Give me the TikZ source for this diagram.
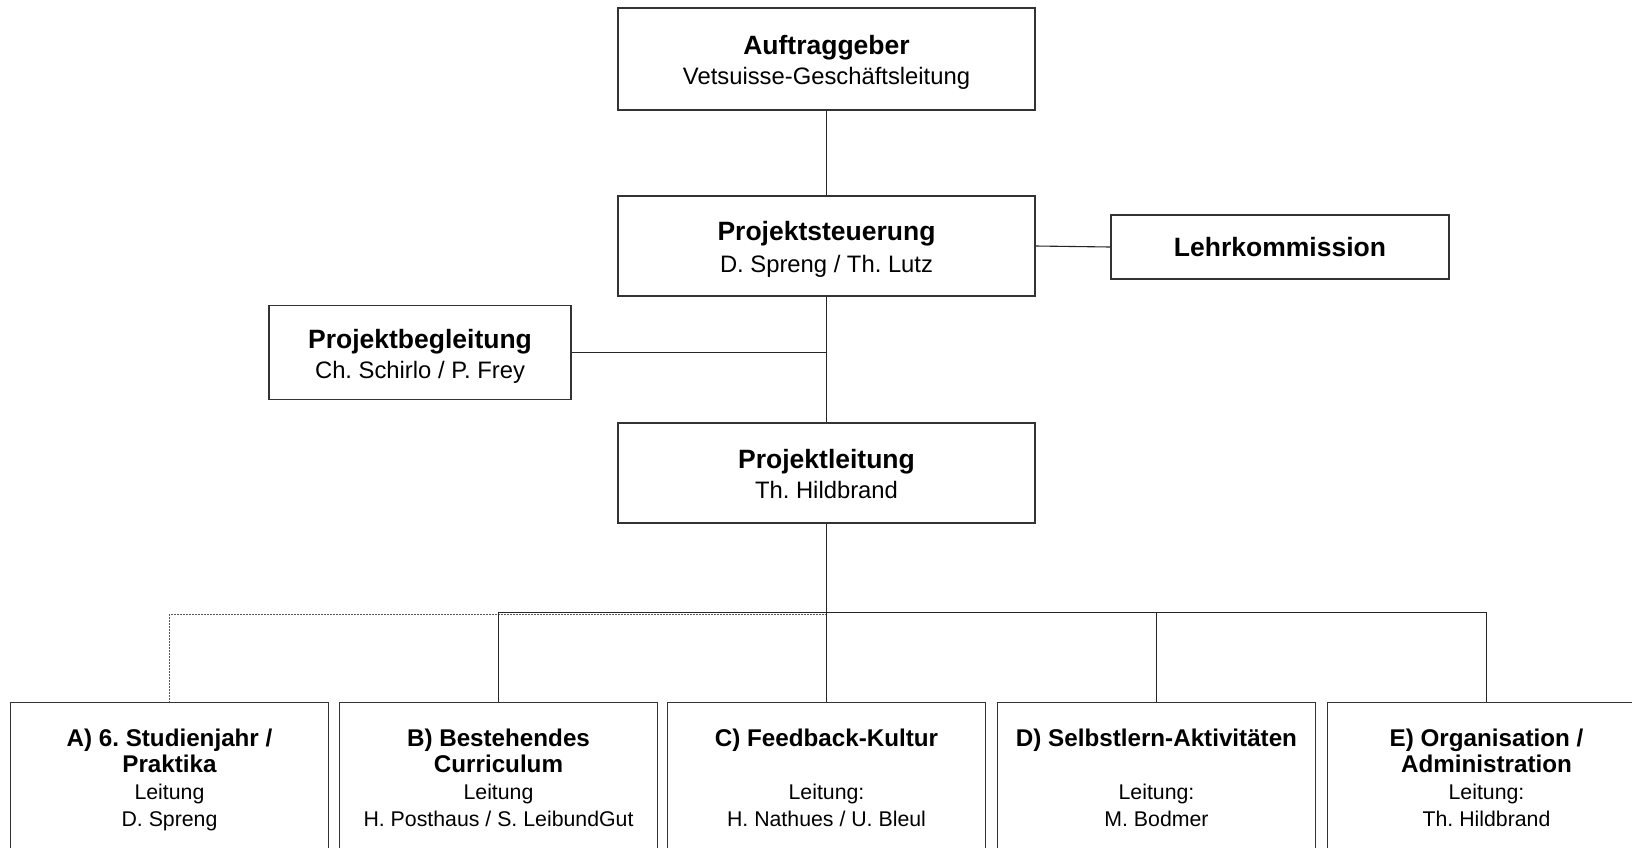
\documentclass[tikz,border=0pt]{standalone}
\usepackage{fontspec}
\setmainfont{Liberation Sans}
\frenchspacing
\begin{document}
\begin{tikzpicture}[x=1pt,y=-1pt,
  conn/.style={draw=black!85,line width=1.1pt},
  dotconn/.style={draw=black!65,line width=1pt,dash pattern=on 1.5pt off 1.5pt},
  topbox/.style={draw=black!80,line width=1.3pt,fill=white,inner sep=0pt,align=center,
     font=\fontsize{23.8}{30}\selectfont},
  botbox/.style={draw=black!80,line width=1.3pt,fill=white,inner sep=0pt,anchor=north,
     minimum width=318pt,minimum height=200pt},
  bottext/.style={inner sep=0pt,anchor=north,align=center,
     font=\fontsize{21.3}{26.7}\selectfont}
]
\useasboundingbox (0,0) rectangle (1632,847);
\clip (0,0) rectangle (1632,847);
\fill[white] (0,0) rectangle (1632,847);
\newcommand{\tb}[1]{{\fontsize{26.5}{30}\selectfont\bfseries #1}}
\newcommand{\tbx}[1]{\rule{0pt}{30pt}{\fontsize{26.5}{30}\selectfont\bfseries #1}}
\newcommand{\bb}[1]{{\fontsize{24.2}{26.7}\selectfont\bfseries #1}}

\coordinate (hub) at (826.5,612.5);
\coordinate (hubd) at (826.5,614);
\coordinate (j1) at (826.5,352.5);

% top boxes
\node[topbox,minimum width=417pt,minimum height=102pt] (auf) at (826.5,59)
  {\tbx{Auftraggeber}\\ Vetsuisse-Geschäftsleitung\strut};
\node[topbox,minimum width=417pt,minimum height=100pt] (steu) at (826.5,246)
  {\tbx{Projektsteuerung}\\[2pt] D. Spreng / Th. Lutz\strut};
\node[topbox,minimum width=338pt,minimum height=64pt] (lehr) at (1280,247)
  {\tb{Lehrkommission}};
\node[topbox,minimum width=302pt,minimum height=94pt] (beg) at (420,352.5)
  {\tbx{Projektbegleitung}\\ Ch. Schirlo / P. Frey\strut};
\node[topbox,minimum width=417pt,minimum height=100pt] (leit) at (826.5,473)
  {\tbx{Projektleitung}\\ Th. Hildbrand\strut};

% bottom boxes
\node[botbox] (A) at (169.5,702) {};
\node[botbox] (B) at (498.5,702) {};
\node[botbox] (C) at (826.5,702) {};
\node[botbox] (D) at (1156.5,702) {};
\node[botbox] (E) at (1486.5,702) {};

\node[bottext] (At) at ([yshift=-25.3pt]A.north)
  {\bb{A) 6. Studienjahr /}\strut\\ \bb{Praktika}\strut\\ Leitung\strut\\ D. Spreng\strut};
\node[bottext] (Bt) at ([yshift=-25.3pt]B.north)
  {\bb{B) Bestehendes}\strut\\ \bb{Curriculum}\strut\\ Leitung\strut\\ H. Posthaus / S. LeibundGut\strut};
\node[bottext] (Ct) at ([yshift=-25.3pt]C.north)
  {\bb{C) Feedback-Kultur}\strut\\ \strut\\ Leitung:\strut\\ H. Nathues / U. Bleul\strut};
\node[bottext] (Dt) at ([yshift=-25.3pt]D.north)
  {\bb{D) Selbstlern-Aktivitäten}\strut\\ \strut\\ Leitung:\strut\\ M. Bodmer\strut};
\node[bottext] (Et) at ([yshift=-25.3pt]E.north)
  {\bb{E) Organisation /}\strut\\ \bb{Administration}\strut\\ Leitung:\strut\\ Th. Hildbrand\strut};

% connectors
\draw[conn] (auf.south) -- (steu.north);
\draw[conn] (steu.south) -- (leit.north);
\draw[conn] (beg.east) -- (j1);
\draw[conn] (steu.east) -- (lehr.west);
\draw[conn] (leit.south) -- (hub);
\draw[dotconn] (hubd) -| (A.north);
\draw[conn] (hub) -| (B.north);
\draw[conn] (hub) -- (C.north);
\draw[conn] (hub) -| (D.north);
\draw[conn] (hub) -| (E.north);
\end{tikzpicture}
\end{document}
